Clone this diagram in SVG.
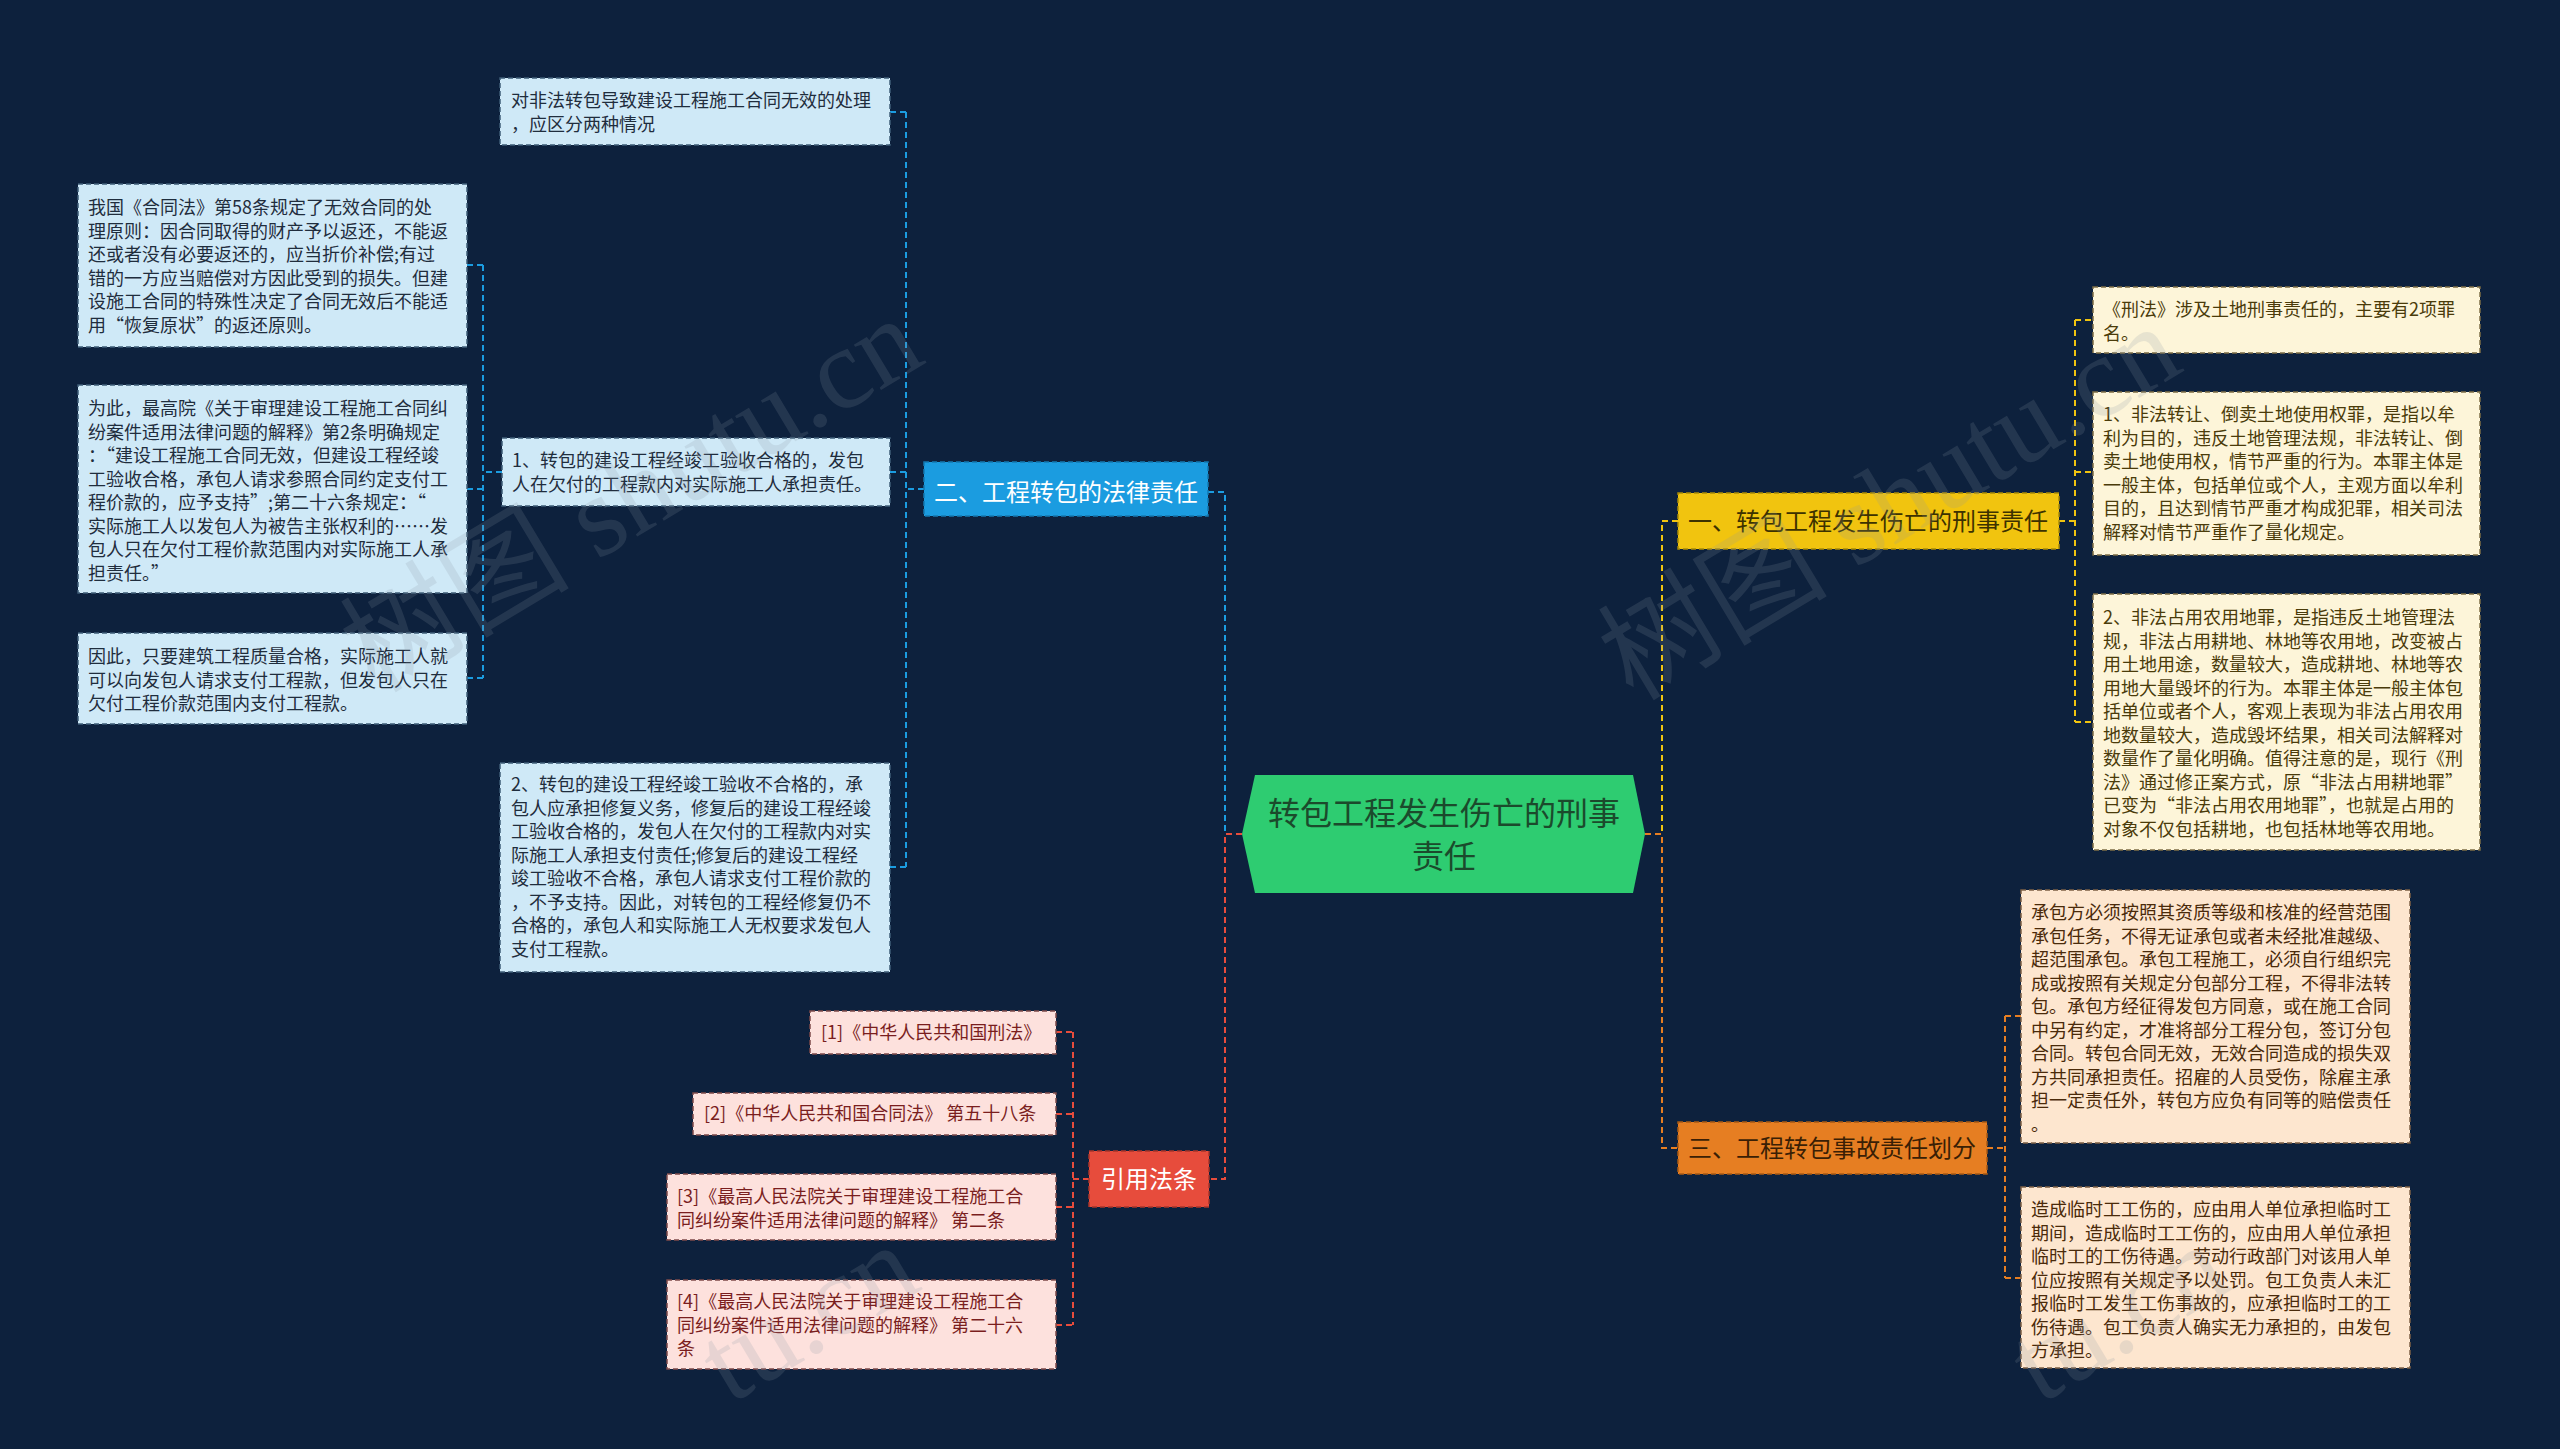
<svg xmlns="http://www.w3.org/2000/svg" width="2560" height="1449" viewBox="0 0 2560 1449">
<style>
text{font-family:"Noto Sans CJK SC","Microsoft YaHei",sans-serif;}
.t{font-size:18px;}
.bt{font-size:24px;text-anchor:middle;}
.ct{font-size:32px;text-anchor:middle;fill:#1b4a2c;}
.lb rect{fill:#cfe9f7;stroke:#3f5d78;stroke-width:1.5;stroke-dasharray:5 3;}
.lb text{fill:#1f2d3d;}
.ly rect{fill:#fdf5d9;stroke:#7d6e45;stroke-width:1.5;stroke-dasharray:5 3;}
.ly text{fill:#4a3b0a;}
.lo rect{fill:#fde6cf;stroke:#7d6045;stroke-width:1.5;stroke-dasharray:5 3;}
.lo text{fill:#4a2a0a;}
.lr rect{fill:#fde1dd;stroke:#7d4a4a;stroke-width:1.5;stroke-dasharray:5 3;}
.lr text{fill:#7a1e1e;}
.c{fill:none;stroke-width:2;stroke-dasharray:6 4;}
.cb{stroke:#1b9ce0;}
.cy{stroke:#f1c40f;}
.co{stroke:#e67e22;}
.cr{stroke:#e74c3c;}
.wm{font-family:"Liberation Serif","Noto Sans CJK SC",serif;font-size:115px;fill:#8a96a3;opacity:0.18;}
</style>
<rect x="0" y="0" width="2560" height="1449" fill="#0d213d"/>

<g id="connectors">
  <!-- center to branches -->
  <path class="c cb" d="M1242,834 H1225 V492 H1208"/>
  <path class="c cr" d="M1242,834 H1225 V1179 H1208"/>
  <path class="c cy" d="M1645,834 H1662 V521 H1678"/>
  <path class="c co" d="M1645,834 H1662 V1148 H1678"/>
  <!-- blue branch -->
  <path class="c cb" d="M924,489 H906 M906,112 V867 M890,112 H906 M890,472 H906 M890,867 H906"/>
  <path class="c cb" d="M502,472 H483 M483,265 V678 M467,265 H483 M467,489 H483 M467,678 H483"/>
  <!-- red branch -->
  <path class="c cr" d="M1089,1179 H1073 M1073,1032 V1325 M1056,1032 H1073 M1056,1114 H1073 M1056,1207 H1073 M1056,1325 H1073"/>
  <!-- yellow branch -->
  <path class="c cy" d="M2059,521 H2075 M2075,320 V722 M2075,320 H2093 M2075,472 H2093 M2075,722 H2093"/>
  <!-- orange branch -->
  <path class="c co" d="M1987,1148 H2005 M2005,1016 V1278 M2005,1016 H2021 M2005,1278 H2021"/>
</g>

<g id="center">
  <polygon points="1255,775 1633,775 1645,834 1633,893 1255,893 1242,834" fill="#2ecc71"/>
  <text class="ct" x="1444" y="825">转包工程发生伤亡的刑事</text>
  <text class="ct" x="1444" y="868">责任</text>
</g>

<g id="branch-blue">
  <rect x="924" y="462" width="284" height="54" fill="#1b9ce0" stroke="#1478b0" stroke-width="1.5" stroke-dasharray="5 3"/>
  <text class="bt" x="1066" y="501" fill="#ffffff">二、工程转包的法律责任</text>
</g>
<g id="branch-yellow">
  <rect x="1678" y="493" width="381" height="56" fill="#f1c40f" stroke="#a88a08" stroke-width="1.5" stroke-dasharray="5 3"/>
  <text class="bt" x="1868" y="530" fill="#3d3200">一、转包工程发生伤亡的刑事责任</text>
</g>
<g id="branch-orange">
  <rect x="1678" y="1122" width="309" height="52" fill="#e67e22" stroke="#a85a15" stroke-width="1.5" stroke-dasharray="5 3"/>
  <text class="bt" x="1832" y="1157" fill="#3a1f05">三、工程转包事故责任划分</text>
</g>
<g id="branch-red">
  <rect x="1089" y="1151" width="120" height="56" fill="#e74c3c" stroke="#a8342a" stroke-width="1.5" stroke-dasharray="5 3"/>
  <text class="bt" x="1149" y="1188" fill="#ffffff">引用法条</text>
</g>

<g id="leaf-a" class="lb">
  <rect x="500" y="78" width="390" height="67"/>
  <text class="t" x="511" y="107">对非法转包导致建设工程施工合同无效的处理</text>
  <text class="t" x="511" y="131">，应区分两种情况</text>
</g>
<g id="leaf-b" class="lb">
  <rect x="78" y="184" width="389" height="163"/>
  <text class="t" x="88" y="214">我国《合同法》第58条规定了无效合同的处</text>
  <text class="t" x="88" y="237.5">理原则：因合同取得的财产予以返还，不能返</text>
  <text class="t" x="88" y="261">还或者没有必要返还的，应当折价补偿;有过</text>
  <text class="t" x="88" y="284.5">错的一方应当赔偿对方因此受到的损失。但建</text>
  <text class="t" x="88" y="308">设施工合同的特殊性决定了合同无效后不能适</text>
  <text class="t" x="88" y="331.5">用“恢复原状”的返还原则。</text>
</g>
<g id="leaf-c" class="lb">
  <rect x="78" y="385" width="389" height="208"/>
  <text class="t" x="88" y="415">为此，最高院《关于审理建设工程施工合同纠</text>
  <text class="t" x="88" y="438.5">纷案件适用法律问题的解释》第2条明确规定</text>
  <text class="t" x="88" y="462">：“建设工程施工合同无效，但建设工程经竣</text>
  <text class="t" x="88" y="485.5">工验收合格，承包人请求参照合同约定支付工</text>
  <text class="t" x="88" y="509">程价款的，应予支持”;第二十六条规定：“</text>
  <text class="t" x="88" y="532.5">实际施工人以发包人为被告主张权利的……发</text>
  <text class="t" x="88" y="556">包人只在欠付工程价款范围内对实际施工人承</text>
  <text class="t" x="88" y="579.5">担责任。”</text>
</g>
<g id="leaf-d" class="lb">
  <rect x="78" y="633" width="389" height="91"/>
  <text class="t" x="88" y="663">因此，只要建筑工程质量合格，实际施工人就</text>
  <text class="t" x="88" y="686.5">可以向发包人请求支付工程款，但发包人只在</text>
  <text class="t" x="88" y="710">欠付工程价款范围内支付工程款。</text>
</g>
<g id="leaf-e" class="lb">
  <rect x="502" y="438" width="388" height="68"/>
  <text class="t" x="512" y="467">1、转包的建设工程经竣工验收合格的，发包</text>
  <text class="t" x="512" y="491">人在欠付的工程款内对实际施工人承担责任。</text>
</g>
<g id="leaf-f" class="lb">
  <rect x="500" y="763" width="390" height="209"/>
  <text class="t" x="511" y="791">2、转包的建设工程经竣工验收不合格的，承</text>
  <text class="t" x="511" y="814.5">包人应承担修复义务，修复后的建设工程经竣</text>
  <text class="t" x="511" y="838">工验收合格的，发包人在欠付的工程款内对实</text>
  <text class="t" x="511" y="861.5">际施工人承担支付责任;修复后的建设工程经</text>
  <text class="t" x="511" y="885">竣工验收不合格，承包人请求支付工程价款的</text>
  <text class="t" x="511" y="908.5">，不予支持。因此，对转包的工程经修复仍不</text>
  <text class="t" x="511" y="932">合格的，承包人和实际施工人无权要求发包人</text>
  <text class="t" x="511" y="955.5">支付工程款。</text>
</g>

<g id="leaf-r1" class="lr">
  <rect x="810" y="1011" width="246" height="43"/>
  <text class="t" x="821" y="1039">[1]《中华人民共和国刑法》</text>
</g>
<g id="leaf-r2" class="lr">
  <rect x="693" y="1093" width="363" height="42"/>
  <text class="t" x="704" y="1120">[2]《中华人民共和国合同法》 第五十八条</text>
</g>
<g id="leaf-r3" class="lr">
  <rect x="667" y="1174" width="389" height="66"/>
  <text class="t" x="677" y="1203">[3]《最高人民法院关于审理建设工程施工合</text>
  <text class="t" x="677" y="1226.5">同纠纷案件适用法律问题的解释》 第二条</text>
</g>
<g id="leaf-r4" class="lr">
  <rect x="667" y="1280" width="389" height="89"/>
  <text class="t" x="677" y="1308">[4]《最高人民法院关于审理建设工程施工合</text>
  <text class="t" x="677" y="1331.5">同纠纷案件适用法律问题的解释》 第二十六</text>
  <text class="t" x="677" y="1355">条</text>
</g>

<g id="leaf-y1" class="ly">
  <rect x="2093" y="287" width="387" height="66"/>
  <text class="t" x="2103" y="316">《刑法》涉及土地刑事责任的，主要有2项罪</text>
  <text class="t" x="2103" y="339.5">名。</text>
</g>
<g id="leaf-y2" class="ly">
  <rect x="2093" y="392" width="387" height="163"/>
  <text class="t" x="2103" y="421">1、非法转让、倒卖土地使用权罪，是指以牟</text>
  <text class="t" x="2103" y="444.5">利为目的，违反土地管理法规，非法转让、倒</text>
  <text class="t" x="2103" y="468">卖土地使用权，情节严重的行为。本罪主体是</text>
  <text class="t" x="2103" y="491.5">一般主体，包括单位或个人，主观方面以牟利</text>
  <text class="t" x="2103" y="515">目的，且达到情节严重才构成犯罪，相关司法</text>
  <text class="t" x="2103" y="538.5">解释对情节严重作了量化规定。</text>
</g>
<g id="leaf-y3" class="ly">
  <rect x="2093" y="594" width="387" height="256"/>
  <text class="t" x="2103" y="624">2、非法占用农用地罪，是指违反土地管理法</text>
  <text class="t" x="2103" y="647.5">规，非法占用耕地、林地等农用地，改变被占</text>
  <text class="t" x="2103" y="671">用土地用途，数量较大，造成耕地、林地等农</text>
  <text class="t" x="2103" y="694.5">用地大量毁坏的行为。本罪主体是一般主体包</text>
  <text class="t" x="2103" y="718">括单位或者个人，客观上表现为非法占用农用</text>
  <text class="t" x="2103" y="741.5">地数量较大，造成毁坏结果，相关司法解释对</text>
  <text class="t" x="2103" y="765">数量作了量化明确。值得注意的是，现行《刑</text>
  <text class="t" x="2103" y="788.5">法》通过修正案方式，原“非法占用耕地罪”</text>
  <text class="t" x="2103" y="812">已变为“非法占用农用地罪”，也就是占用的</text>
  <text class="t" x="2103" y="835.5">对象不仅包括耕地，也包括林地等农用地。</text>
</g>

<g id="leaf-o1" class="lo">
  <rect x="2021" y="890" width="389" height="253"/>
  <text class="t" x="2031" y="919">承包方必须按照其资质等级和核准的经营范围</text>
  <text class="t" x="2031" y="942.5">承包任务，不得无证承包或者未经批准越级、</text>
  <text class="t" x="2031" y="966">超范围承包。承包工程施工，必须自行组织完</text>
  <text class="t" x="2031" y="989.5">成或按照有关规定分包部分工程，不得非法转</text>
  <text class="t" x="2031" y="1013">包。承包方经征得发包方同意，或在施工合同</text>
  <text class="t" x="2031" y="1036.5">中另有约定，才准将部分工程分包，签订分包</text>
  <text class="t" x="2031" y="1060">合同。转包合同无效，无效合同造成的损失双</text>
  <text class="t" x="2031" y="1083.5">方共同承担责任。招雇的人员受伤，除雇主承</text>
  <text class="t" x="2031" y="1107">担一定责任外，转包方应负有同等的赔偿责任</text>
  <text class="t" x="2031" y="1130.5">。</text>
</g>
<g id="leaf-o2" class="lo">
  <rect x="2021" y="1187" width="389" height="181"/>
  <text class="t" x="2031" y="1216">造成临时工工伤的，应由用人单位承担临时工</text>
  <text class="t" x="2031" y="1239.5">期间，造成临时工工伤的，应由用人单位承担</text>
  <text class="t" x="2031" y="1263">临时工的工伤待遇。劳动行政部门对该用人单</text>
  <text class="t" x="2031" y="1286.5">位应按照有关规定予以处罚。包工负责人未汇</text>
  <text class="t" x="2031" y="1310">报临时工发生工伤事故的，应承担临时工的工</text>
  <text class="t" x="2031" y="1333.5">伤待遇。包工负责人确实无力承担的，由发包</text>
  <text class="t" x="2031" y="1357">方承担。</text>
</g>

<g id="watermark">
  <text class="wm" transform="translate(375,694) rotate(-31)">树图 shutu.cn</text>
  <text class="wm" transform="translate(1633,702) rotate(-31)">树图 shutu.cn</text>
  <text class="wm" transform="translate(730,1405) rotate(-31)">tu.cn</text>
  <text class="wm" transform="translate(2040,1405) rotate(-31)">tu.cn</text>
</g>
</svg>
